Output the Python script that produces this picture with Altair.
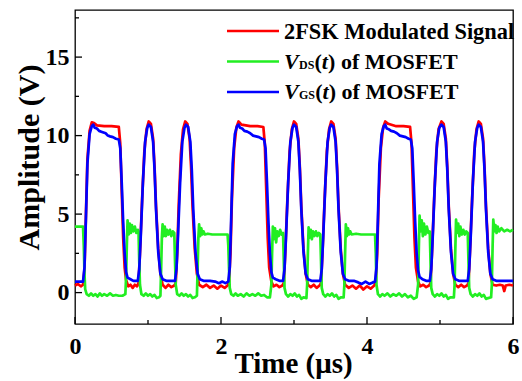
import altair as alt
import pandas as pd

# ---- data (time in microseconds, amplitude in volts) ----
fsk = [(0.00,0.45),(0.04,0.55),(0.08,0.4),(0.11,0.5),(0.13,1.5),(0.15,5.0),(0.17,8.5),(0.20,10.3),(0.23,10.85),(0.26,10.8),(0.30,10.65),(0.40,10.6),(0.50,10.6),(0.60,10.55),(0.62,9.5),(0.64,6.5),(0.66,3.5),(0.68,1.6),(0.70,0.8),(0.73,0.4),(0.76,0.5),(0.79,0.3),(0.82,0.5),(0.85,0.4),
       (0.87,0.6),(0.89,2.5),(0.92,6.0),(0.95,9.0),(0.98,10.4),(1.01,10.9),(1.04,10.75),(1.07,9.8),(1.09,8.0),(1.11,5.5),(1.14,2.8),(1.17,1.2),(1.20,0.5),(1.24,0.3),(1.28,0.5),(1.32,0.35),(1.36,0.45),
       (1.38,0.6),(1.40,2.5),(1.42,5.5),(1.45,8.8),(1.48,10.4),(1.51,10.9),(1.54,10.75),(1.57,9.8),(1.59,8.0),(1.61,5.5),(1.64,2.8),(1.67,1.2),(1.70,0.5),(1.75,0.35),(1.80,0.5),(1.85,0.3),(1.90,0.45),(1.95,0.25),(2.00,0.45),(2.05,0.3),(2.09,0.45),
       (2.11,0.7),(2.13,2.5),(2.15,6.0),(2.18,9.2),(2.21,10.5),(2.24,10.9),(2.28,10.7),(2.40,10.6),(2.50,10.6),(2.58,10.55),(2.60,9.5),(2.62,6.5),(2.64,3.5),(2.66,1.6),(2.69,0.7),(2.72,0.4),(2.76,0.5),(2.80,0.35),(2.84,0.45),
       (2.86,0.6),(2.88,2.5),(2.91,6.0),(2.94,9.0),(2.97,10.4),(3.00,10.9),(3.03,10.75),(3.06,9.8),(3.08,8.0),(3.10,5.5),(3.13,2.8),(3.16,1.2),(3.19,0.5),(3.23,0.35),(3.27,0.5),(3.31,0.3),(3.35,0.45),
       (3.37,0.6),(3.39,2.5),(3.42,6.0),(3.45,9.0),(3.48,10.4),(3.51,10.9),(3.54,10.75),(3.57,9.8),(3.59,8.0),(3.61,5.5),(3.64,2.8),(3.67,1.2),(3.70,0.5),(3.75,0.3),(3.80,0.45),(3.85,0.25),(3.90,0.45),(3.95,0.2),(4.00,0.4),(4.05,0.25),(4.10,0.45),
       (4.12,0.7),(4.14,2.5),(4.16,6.0),(4.19,9.2),(4.22,10.5),(4.25,10.9),(4.29,10.75),(4.40,10.6),(4.50,10.6),(4.59,10.55),(4.61,9.5),(4.63,6.5),(4.65,3.5),(4.67,1.6),(4.70,0.7),(4.73,0.4),(4.77,0.5),(4.81,0.35),(4.85,0.45),
       (4.87,0.6),(4.89,2.5),(4.92,6.0),(4.95,9.0),(4.98,10.4),(5.02,10.9),(5.05,10.75),(5.08,9.8),(5.10,8.0),(5.12,5.5),(5.15,2.8),(5.18,1.2),(5.21,0.5),(5.25,0.35),(5.29,0.5),(5.33,0.35),(5.37,0.45),
       (5.39,0.6),(5.41,2.5),(5.44,6.0),(5.47,9.0),(5.50,10.4),(5.53,10.9),(5.56,10.75),(5.59,9.8),(5.61,8.0),(5.63,5.5),(5.66,2.8),(5.69,1.2),(5.72,0.5),(5.77,0.45),(5.82,0.5),(5.86,0.45),(5.88,0.1),(5.90,0.45),(5.95,0.5),(6.00,0.45)]

vds = [(0.00,4.2),(0.06,4.2),(0.11,4.2),(0.12,3.0),(0.13,1.2),(0.14,0.2),(0.16,-0.1),(0.19,-0.2),(0.22,-0.05),(0.25,-0.2),(0.28,-0.1),(0.31,-0.25),(0.34,-0.05),(0.37,-0.2),(0.40,-0.1),(0.44,-0.2),(0.48,-0.05),(0.52,-0.2),(0.56,-0.15),(0.60,-0.2),(0.65,-0.2),(0.69,-0.1),
       (0.70,1.0),(0.71,3.0),(0.72,4.6),(0.735,3.7),(0.75,4.4),(0.765,3.8),(0.78,4.3),(0.80,3.9),(0.82,4.2),(0.84,3.8),(0.86,4.0),(0.87,3.9),(0.88,2.0),(0.89,0.5),(0.91,-0.1),(0.94,-0.2),(0.97,-0.05),(1.00,-0.2),(1.03,-0.1),(1.06,-0.25),(1.09,-0.15),(1.12,-0.35),(1.15,-0.3),(1.17,-0.2),
       (1.18,1.5),(1.19,3.5),(1.20,4.35),(1.215,3.6),(1.23,4.2),(1.245,3.6),(1.26,4.0),(1.28,3.7),(1.30,4.0),(1.32,3.6),(1.34,3.9),(1.36,3.8),(1.37,2.0),(1.38,0.5),(1.40,-0.1),(1.43,-0.2),(1.46,-0.05),(1.49,-0.2),(1.52,-0.1),(1.55,-0.25),(1.58,-0.15),(1.61,-0.35),(1.64,-0.3),(1.67,-0.2),
       (1.68,1.5),(1.69,3.5),(1.70,4.35),(1.715,3.6),(1.73,4.1),(1.745,3.7),(1.76,3.9),(1.78,3.7),(1.82,3.75),(1.88,3.7),(1.95,3.7),(2.02,3.7),(2.09,3.7),(2.10,3.0),(2.11,1.5),(2.12,0.3),(2.14,-0.1),(2.17,-0.2),(2.20,-0.05),(2.23,-0.2),(2.27,-0.1),(2.31,-0.25),(2.35,-0.05),(2.39,-0.2),(2.43,-0.1),(2.47,-0.2),(2.51,-0.05),(2.55,-0.2),(2.59,-0.15),(2.63,-0.3),(2.67,-0.3),
       (2.69,0.5),(2.70,2.5),(2.71,4.2),(2.725,3.4),(2.74,4.1),(2.755,3.2),(2.77,3.9),(2.79,3.6),(2.81,4.0),(2.83,3.7),(2.85,3.8),(2.86,2.0),(2.87,0.3),(2.89,-0.1),(2.92,-0.25),(2.95,-0.1),(2.98,-0.2),(3.01,-0.05),(3.04,-0.25),(3.07,-0.15),(3.10,-0.4),(3.13,-0.3),(3.17,-0.35),
       (3.18,0.5),(3.19,2.5),(3.20,4.15),(3.215,3.5),(3.23,4.0),(3.245,3.4),(3.26,3.9),(3.28,3.6),(3.30,3.9),(3.32,3.6),(3.34,3.8),(3.36,3.7),(3.37,2.0),(3.38,0.3),(3.40,-0.1),(3.43,-0.25),(3.46,-0.1),(3.49,-0.2),(3.52,-0.05),(3.55,-0.25),(3.58,-0.15),(3.61,-0.4),(3.64,-0.3),(3.68,-0.3),
       (3.69,0.5),(3.70,2.5),(3.71,4.35),(3.725,3.6),(3.74,4.1),(3.755,3.7),(3.77,3.9),(3.79,3.7),(3.85,3.75),(3.92,3.7),(4.00,3.7),(4.06,3.7),(4.11,3.7),(4.12,2.5),(4.13,0.5),(4.15,-0.1),(4.18,-0.25),(4.21,-0.1),(4.24,-0.2),(4.28,-0.05),(4.32,-0.25),(4.36,-0.1),(4.40,-0.2),(4.44,-0.05),(4.48,-0.25),(4.52,-0.1),(4.56,-0.3),(4.60,-0.2),(4.64,-0.4),(4.68,-0.3),
       (4.70,0.5),(4.71,2.8),(4.72,4.9),(4.735,3.9),(4.75,4.6),(4.765,3.6),(4.78,4.4),(4.80,3.7),(4.82,4.2),(4.84,3.8),(4.86,3.9),(4.87,2.0),(4.88,0.3),(4.90,-0.1),(4.93,-0.25),(4.96,-0.1),(4.99,-0.2),(5.02,-0.05),(5.05,-0.25),(5.08,-0.15),(5.11,-0.4),(5.14,-0.3),(5.19,-0.3),
       (5.20,0.5),(5.21,2.8),(5.22,4.65),(5.235,3.8),(5.25,4.4),(5.265,3.6),(5.28,4.2),(5.30,3.7),(5.32,4.0),(5.34,3.7),(5.36,3.9),(5.38,3.8),(5.39,2.0),(5.40,0.3),(5.42,-0.1),(5.45,-0.25),(5.48,-0.1),(5.51,-0.2),(5.54,-0.05),(5.57,-0.25),(5.60,-0.15),(5.63,-0.4),(5.66,-0.35),(5.70,-0.3),
       (5.71,0.5),(5.72,2.8),(5.73,4.65),(5.745,3.9),(5.76,4.3),(5.775,3.8),(5.79,4.2),(5.81,3.9),(5.84,4.1),(5.88,3.9),(5.92,4.0),(5.96,3.9),(6.00,4.0)]

vgs = [(0.00,0.7),(0.05,0.7),(0.11,0.7),(0.13,1.6),(0.15,4.8),(0.17,8.2),(0.20,10.1),(0.23,10.6),(0.25,10.7),(0.27,10.5),(0.30,10.45),(0.33,10.3),(0.36,10.25),(0.39,10.2),(0.42,10.15),(0.45,10.0),(0.48,9.95),(0.52,9.9),(0.56,9.8),(0.60,9.75),(0.62,9.2),(0.64,7.0),(0.66,4.5),(0.68,2.5),(0.70,1.3),(0.72,0.95),(0.76,0.85),(0.80,0.75),(0.86,0.75),
       (0.88,1.5),(0.90,3.5),(0.93,7.0),(0.96,9.6),(0.99,10.5),(1.01,10.7),(1.04,10.55),(1.07,9.6),(1.09,7.8),(1.11,5.3),(1.14,2.6),(1.17,1.2),(1.20,0.85),(1.25,0.75),(1.30,0.75),(1.37,0.75),
       (1.39,1.5),(1.41,3.5),(1.44,7.0),(1.47,9.6),(1.50,10.5),(1.52,10.7),(1.55,10.55),(1.58,9.6),(1.60,7.8),(1.62,5.3),(1.65,2.6),(1.68,1.2),(1.71,0.85),(1.76,0.75),(1.85,0.75),(1.92,0.7),(1.97,0.6),(2.02,0.7),(2.06,0.6),(2.10,0.7),
       (2.12,1.6),(2.14,4.8),(2.16,8.2),(2.19,10.1),(2.22,10.6),(2.24,10.7),(2.26,10.5),(2.29,10.45),(2.32,10.3),(2.36,10.25),(2.40,10.15),(2.44,10.0),(2.48,9.95),(2.52,9.9),(2.56,9.8),(2.59,9.75),(2.61,9.2),(2.63,7.0),(2.65,4.5),(2.67,2.5),(2.69,1.3),(2.71,0.95),(2.75,0.85),(2.80,0.75),(2.85,0.75),
       (2.87,1.5),(2.89,3.5),(2.92,7.0),(2.95,9.6),(2.98,10.5),(3.00,10.7),(3.03,10.55),(3.06,9.6),(3.08,7.8),(3.10,5.3),(3.13,2.6),(3.16,1.2),(3.19,0.85),(3.24,0.75),(3.30,0.75),(3.36,0.75),
       (3.38,1.5),(3.40,3.5),(3.43,7.0),(3.46,9.6),(3.49,10.5),(3.51,10.7),(3.54,10.55),(3.57,9.6),(3.59,7.8),(3.61,5.3),(3.64,2.6),(3.67,1.2),(3.70,0.85),(3.75,0.75),(3.82,0.75),(3.88,0.65),(3.93,0.55),(3.98,0.7),(4.03,0.55),(4.08,0.65),(4.11,0.7),
       (4.13,1.6),(4.15,4.8),(4.17,8.2),(4.20,10.1),(4.23,10.6),(4.25,10.7),(4.27,10.45),(4.30,10.4),(4.33,10.3),(4.37,10.25),(4.41,10.15),(4.45,10.0),(4.49,9.95),(4.53,9.9),(4.57,9.8),(4.60,9.75),(4.62,9.2),(4.64,7.0),(4.66,4.5),(4.68,2.5),(4.70,1.4),(4.72,1.0),(4.76,0.85),(4.81,0.75),(4.86,0.75),
       (4.88,1.5),(4.90,3.5),(4.93,7.0),(4.96,9.6),(4.99,10.5),(5.02,10.7),(5.05,10.55),(5.08,9.6),(5.10,7.8),(5.12,5.3),(5.15,2.6),(5.18,1.2),(5.21,0.85),(5.26,0.75),(5.32,0.75),(5.38,0.75),
       (5.40,1.5),(5.42,3.5),(5.45,7.0),(5.48,9.6),(5.51,10.5),(5.53,10.7),(5.56,10.55),(5.59,9.6),(5.61,7.8),(5.63,5.3),(5.66,2.6),(5.69,1.2),(5.72,0.85),(5.77,0.75),(5.85,0.75),(5.92,0.75),(6.00,0.75)]

x_major = [0, 2, 4, 6]
x_minor = [1, 3, 5]
y_major = [0, 5, 10, 15]
y_minor = [2.5, 7.5, 12.5, 17.5]

series_colors = {"fsk": "#ff0000", "vds": "#22ee22", "vgs": "#0000ff"}

FONT = "Liberation Serif"
W, H = 438, 314

xscale = alt.Scale(domain=[0, 6], nice=False, zero=False)
yscale = alt.Scale(domain=[-2, 18], nice=False, zero=False)

xaxis = alt.Axis(values=x_major, ticks=False, tickSize=0, domain=False, grid=False,
                 labelFont=FONT, labelFontSize=24, labelFontWeight="bold", labelColor="black",
                 labelPadding=10, labelFlush=False, labelOverlap=False,
                 title="Time (μs)", titleFont=FONT, titleFontSize=29, titleFontWeight="bold",
                 titleColor="black", titleX=218, titleY=48, titleBaseline="alphabetic", titleAlign="center")
yaxis = alt.Axis(values=y_major, ticks=False, tickSize=0, domain=False, grid=False,
                 labelFont=FONT, labelFontSize=24, labelFontWeight="bold", labelColor="black",
                 labelPadding=6, labelFlush=False, labelOverlap=False,
                 title="Amplitude (V)", titleFont=FONT, titleFontSize=30, titleFontWeight="bold",
                 titleColor="black", titleX=-46, titleY=147, titleAngle=-90,
                 titleBaseline="middle", titleAlign="center")

X = alt.X("t:Q", scale=xscale, axis=xaxis)
Y = alt.Y("v:Q", scale=yscale, axis=yaxis)


def line_layer(pts, key):
    df = pd.DataFrame(pts, columns=["t", "v"])
    return alt.Chart(df).mark_line(color=series_colors[key], strokeWidth=2.7,
                                   strokeJoin="round").encode(x=X, y=Y)


layers = [line_layer(fsk, "fsk"), line_layer(vds, "vds"), line_layer(vgs, "vgs")]

# inward ticks
tick_style = dict(color="black", strokeWidth=1.3)
layers.append(alt.Chart(pd.DataFrame({"v": y_major})).mark_rule(**tick_style).encode(
    y=Y, x=alt.value(0), x2=alt.value(7)))
layers.append(alt.Chart(pd.DataFrame({"v": y_minor})).mark_rule(**tick_style).encode(
    y=Y, x=alt.value(0), x2=alt.value(4)))
layers.append(alt.Chart(pd.DataFrame({"t": x_major})).mark_rule(**tick_style).encode(
    x=X, y=alt.value(H), y2=alt.value(H - 7)))
layers.append(alt.Chart(pd.DataFrame({"t": x_minor})).mark_rule(**tick_style).encode(
    x=X, y=alt.value(H), y2=alt.value(H - 4)))

# legend (manual, to allow italic V with subscript)
legend_rows = [("fsk", 21), ("vds", 51.5), ("vgs", 82)]
for key, ly in legend_rows:
    layers.append(alt.Chart(pd.DataFrame({"k": [key]})).mark_rule(
        color=series_colors[key], strokeWidth=2.7).encode(
        x=alt.value(152), x2=alt.value(204), y=alt.value(ly)))


def txt(s, x, y, size=22, italic=False):
    return alt.Chart(pd.DataFrame({"s": [s]})).mark_text(
        font=FONT, fontSize=size, fontWeight="bold",
        fontStyle="italic" if italic else "normal",
        align="left", baseline="alphabetic", color="black").encode(
        text="s:N", x=alt.value(x), y=alt.value(y))


layers.append(txt("2FSK Modulated Signal", 209, 29, size=22.4))
for sub, ly in [("DS", 58.5), ("GS", 89)]:
    layers.append(txt("V", 209, ly, italic=True))
    layers.append(txt(sub, 224, ly, size=12))
    x0 = 224 + (15.5 if sub == "DS" else 16.2)
    layers.append(txt("(", x0, ly))
    layers.append(txt("t", x0 + 7.3, ly, italic=True))
    layers.append(txt(")", x0 + 13.6, ly))
    layers.append(txt("of MOSFET", x0 + 26.4, ly))

chart = alt.layer(*layers).properties(
    width=W, height=H,
    autosize=alt.AutoSizeParams(type="none"),
    padding={"left": 75, "top": 10, "right": 9, "bottom": 57},
    background="white",
).configure_view(stroke="black", strokeWidth=1.3)

chart.save("out.html", embed_options={"renderer": "svg", "actions": False})
